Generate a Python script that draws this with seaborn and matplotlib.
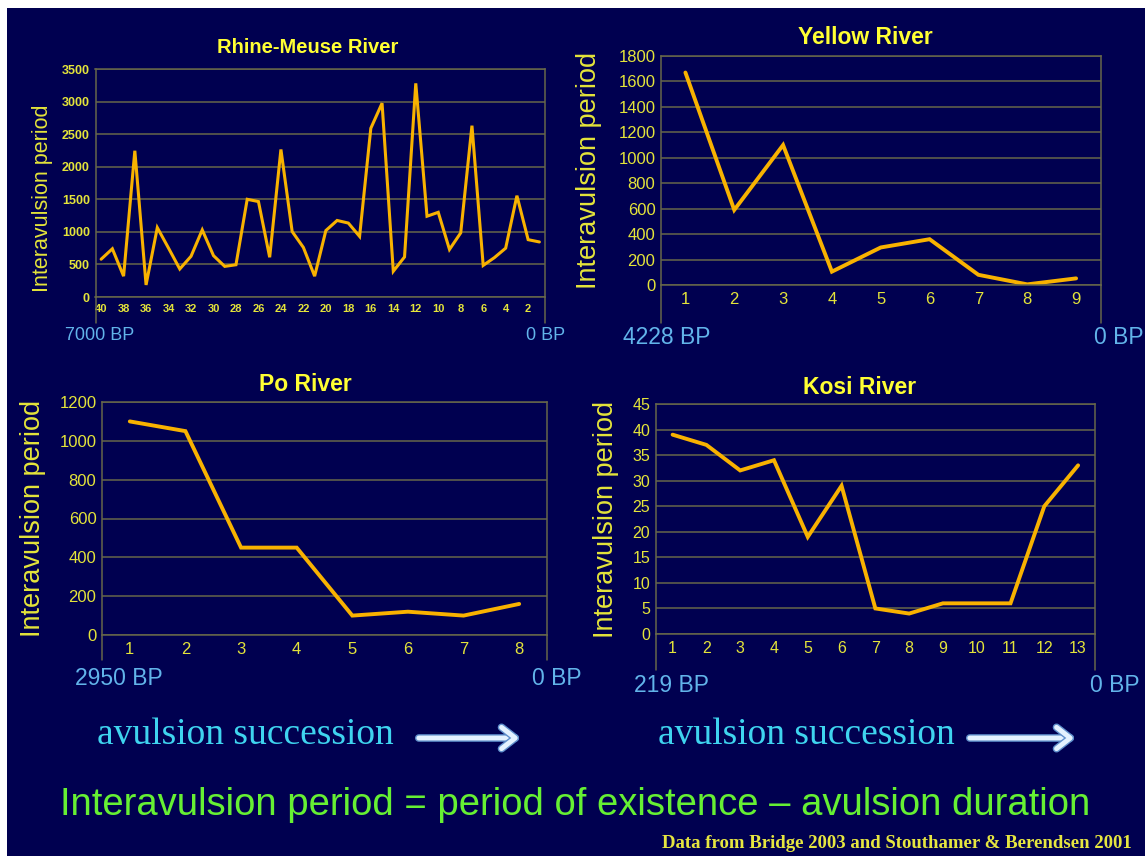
import matplotlib
matplotlib.use("Agg")
import matplotlib.pyplot as plt
import matplotlib.patheffects as pe
from matplotlib.patches import Rectangle, FancyArrowPatch
import pandas as pd
import seaborn as sns

# data
rhine_avulsion = list(range(40, 0, -1))
rhine_period = [580, 740, 320, 2245, 185, 1065, 750, 430, 625, 1030,
                635, 470, 495, 1500, 1465, 610, 2265, 1005, 760, 320,
                1020, 1175, 1135, 930, 2590, 2975, 395, 615, 3280, 1240,
                1300, 730, 985, 2630, 485, 605, 750, 1555, 880, 845]
yellow_avulsion = list(range(1, 10))
yellow_period = [1670, 590, 1100, 105, 295, 360, 80, 5, 52]
po_avulsion = list(range(1, 9))
po_period = [1100, 1050, 450, 450, 100, 120, 100, 160]
kosi_avulsion = list(range(1, 14))
kosi_period = [39, 37, 32, 34, 19, 29, 5, 4, 6, 6, 6, 25, 33]

titles = ["Rhine-Meuse River", "Yellow River", "Po River", "Kosi River"]
start_labels = ["7000 BP", "4228 BP", "2950 BP", "219 BP"]
end_label = "0 BP"
y_ticks = [list(range(0, 3501, 500)), list(range(0, 1801, 200)),
           list(range(0, 1201, 200)), list(range(0, 46, 5))]
x_ticks = [list(range(40, 0, -2)), yellow_avulsion, po_avulsion, kosi_avulsion]
ylabel = "Interavulsion period"

NAVY = "#000050"
LINE = "#f8b200"
GRID = "#66664a"
TICK = "#e4e43a"
TITLE = "#ffff33"
BLUE = "#62b4ea"

sns.set_theme(style="dark")
plt.rcParams["font.family"] = ["Liberation Sans", "DejaVu Sans"]

W, H = 1145, 856
fig = plt.figure(figsize=(W / 100, H / 100), dpi=100, facecolor="white")
fig.add_artist(Rectangle((7 / W, 0), 1, 1 - 8 / H, transform=fig.transFigure,
                         facecolor=NAVY, edgecolor="none", zorder=0))


def box(l, r, t, b):
    return [l / W, 1 - b / H, (r - l) / W, (b - t) / H]


# pixel boxes of the four plot areas
rects = [box(95.5, 545, 69, 297), box(661, 1100.5, 56, 285),
         box(102, 547, 402, 635), box(655.7, 1095, 404, 634)]
frames = [pd.DataFrame({"avulsion": rhine_avulsion, "period": rhine_period}),
          pd.DataFrame({"avulsion": yellow_avulsion, "period": yellow_period}),
          pd.DataFrame({"avulsion": po_avulsion, "period": po_period}),
          pd.DataFrame({"avulsion": kosi_avulsion, "period": kosi_period})]

# per-panel styling (small Rhine panel, three large ones)
line_w = [2.2, 2.8, 2.8, 2.8]
tick_fs = [9, 12, 12, 11.5]
xtick_fs = [8, 12, 12, 11.5]
tick_wt = ["bold", "normal", "normal", "normal"]
title_fs = [14.5, 16.5, 16.5, 16.5]
title_xy = [(0.473, 1.096), (0.466, 1.079), (0.458, 1.073), (0.464, 1.070)]
ylabel_fs = [15.5, 19.5, 19.5, 19.5]
ylabel_xy = [(-0.118, 0.434), (-0.164, 0.5), (-0.155, 0.5), (-0.114, 0.5)]
bp_fs = [13, 16.5, 16.5, 16.5]
bp_y = [-0.167, -0.231, -0.185, -0.222]
bp_x = [(0.01, 1.002), (0.014, 1.042), (0.037, 1.022), (0.037, 1.046)]
drop = [-0.114, -0.166, -0.107, -0.157]

for i in range(4):
    ax = fig.add_axes(rects[i])
    ax.set_facecolor(NAVY)
    df = frames[i]
    sns.lineplot(data=df, x="avulsion", y="period", ax=ax, color=LINE,
                 lw=line_w[i], solid_joinstyle="miter")
    n = len(df)
    if i == 0:
        ax.set_xlim(n + 0.5, 0.5)
    else:
        ax.set_xlim(0.5, n + 0.5)
    ax.set_ylim(0, y_ticks[i][-1])
    ax.set_yticks(y_ticks[i])
    ax.set_xticks(x_ticks[i])
    ax.set_xticks([k + 0.5 for k in range(n + 1)], minor=True)
    ax.grid(axis="y", color=GRID, lw=1.1)
    ax.grid(axis="x", visible=False)
    for s in ax.spines.values():
        s.set_color(GRID)
        s.set_linewidth(1.1)
    ax.tick_params(axis="both", which="major", length=0, colors=TICK,
                   labelsize=tick_fs[i])
    ax.tick_params(axis="x", which="major", pad=5, labelsize=xtick_fs[i])
    ax.tick_params(axis="y", pad=4)
    ax.tick_params(axis="x", which="minor", length=3, direction="inout",
                   color=GRID, width=1)
    for lab in ax.get_xticklabels() + ax.get_yticklabels():
        lab.set_fontweight(tick_wt[i])
    ax.set_xlabel("")
    ax.set_ylabel(ylabel, color=TICK, fontsize=ylabel_fs[i], va="center")
    ax.yaxis.set_label_coords(*ylabel_xy[i])
    ax.text(title_xy[i][0], title_xy[i][1], titles[i], transform=ax.transAxes,
            ha="center", va="center", color=TITLE, fontsize=title_fs[i],
            fontweight="bold")
    # time bar below the axis
    for xx in (0, 1):
        ax.plot([xx, xx], [0, drop[i]], transform=ax.transAxes, color=GRID,
                lw=1.1, clip_on=False)
    ax.text(bp_x[i][0], bp_y[i], start_labels[i], transform=ax.transAxes,
            ha="center", va="center", color=BLUE, fontsize=bp_fs[i])
    ax.text(bp_x[i][1], bp_y[i], end_label, transform=ax.transAxes,
            ha="center", va="center", color=BLUE, fontsize=bp_fs[i])

# bottom captions
for cx, a0, a1 in [(245, 416, 522), (806, 967, 1077)]:
    fig.text(cx / W, 1 - 735 / H, "avulsion succession", ha="center",
             va="center", color="#3fd4ef", fontsize=27,
             family=["Liberation Serif", "DejaVu Serif"])
    arr = FancyArrowPatch((a0 / W, 1 - 738 / H), (a1 / W, 1 - 738 / H),
                          transform=fig.transFigure,
                          arrowstyle="->,head_length=0.45,head_width=0.35",
                          mutation_scale=22, lw=3.5, color="#e4f2ff")
    arr.set_path_effects([pe.Stroke(linewidth=5.5, foreground="#5f8fcc"),
                          pe.Normal()])
    fig.add_artist(arr)

fig.text(575 / W, 1 - 805 / H,
         "Interavulsion period = period of existence \u2013 avulsion duration",
         ha="center", va="center", color="#66f033", fontsize=27.5)
fig.text(1132 / W, 1 - 843 / H,
         "Data from Bridge 2003 and Stouthamer & Berendsen 2001",
         ha="right", va="center", color="#e6e640", fontsize=13.5,
         fontweight="bold", family=["Liberation Serif", "DejaVu Serif"])

fig.savefig("out.png", dpi=100, facecolor=fig.get_facecolor())
